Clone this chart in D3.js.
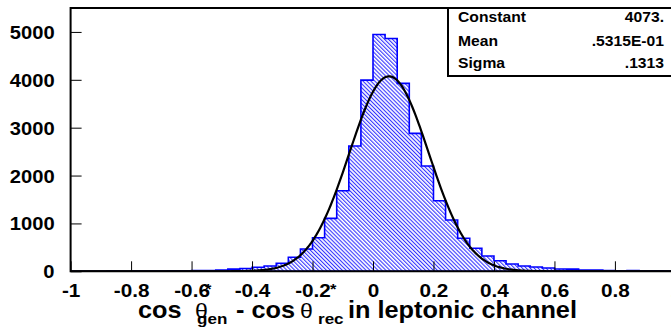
<!DOCTYPE html>
<html>
<head>
<meta charset="utf-8">
<script src="https://cdn.jsdelivr.net/npm/d3@7"></script>
<style>
  body { margin: 0; background: #fff; }
  text { font-family: "Liberation Sans", Arial, sans-serif; font-weight: bold; }
</style>
</head>
<body>
<div id="chart"></div>
<script>
// histogram: 50 bins of 0.04 from -1 to 1 (counts)
var binLow = -1, binWidth = 0.04;
var counts = [1, 2, 1, 3, 2, 4, 5, 6, 8,
              12, 15, 18, 27, 45, 60, 84, 111, 167, 292, 466, 702, 1106, 1683, 2616, 3994,
              4948, 4864, 3925, 2881, 2200, 1474, 1071, 689, 480, 319, 221, 152, 111, 90, 69,
              48, 45, 27, 25, 15, 8, 14, 6, 12, 4];
// gaussian fit, as printed in the stats box
var fitNames = ["Constant", "Mean", "Sigma"];
var fitLabels = ["4073.", ".5315E-01", ".1313"];
var fitConstant = 4073, fitMean = 0.05315, fitSigma = 0.1313;
var xTicks = [-1, -0.8, -0.6, -0.4, -0.2, 0, 0.2, 0.4, 0.6, 0.8, 1];
var xTickLabels = ["-1", "-0.8", "-0.6", "-0.4", "-0.2", "0", "0.2", "0.4", "0.6", "0.8", "1"];
var yTicks = [0, 1000, 2000, 3000, 4000, 5000];

var width = 671, height = 336;
var pLeft = 70.6, pRight = 675.4, pTop = 8, pBottom = 271.3;
var stretch = 1.12; // the original font is a bit wider than Arial

var svg = d3.select('#chart').append('svg')
  .attr('width', width).attr('height', height);

var x = d3.scaleLinear().domain([-1, 1]).range([pLeft, pRight]);
var y = d3.scaleLinear().domain([0, 5500]).range([pBottom, pTop]);

var defs = svg.append('defs');
defs.append('clipPath').attr('id', 'plotclip')
  .append('rect').attr('x', pLeft).attr('y', pTop)
  .attr('width', pRight - pLeft).attr('height', pBottom - pTop);
var pat = defs.append('pattern').attr('id', 'hatch')
  .attr('patternUnits', 'userSpaceOnUse')
  .attr('width', 2.8).attr('height', 10)
  .attr('patternTransform', 'rotate(-45)');
pat.append('line').attr('x1', 0.6).attr('y1', 0).attr('x2', 0.6).attr('y2', 10)
  .attr('stroke', '#0000ff').attr('stroke-width', 0.9);

var plot = svg.append('g').attr('clip-path', 'url(#plotclip)');

// histogram outline as a step path
var bins = counts.map(function (c, i) {
  return { x0: binLow + i * binWidth, x1: binLow + (i + 1) * binWidth, v: c };
});
var p = d3.path();
p.moveTo(x(bins[0].x0), y(0));
bins.forEach(function (b) {
  p.lineTo(x(b.x0), y(b.v));
  p.lineTo(x(b.x1), y(b.v));
});
p.lineTo(x(bins[bins.length - 1].x1), y(0));
p.closePath();

plot.append('path').attr('d', p.toString())
  .attr('fill', 'url(#hatch)')
  .attr('stroke', '#0000ff').attr('stroke-width', 1.6)
  .attr('stroke-linejoin', 'miter');

// fitted gaussian
var curveX = d3.range(-1, 1.0001, 0.005);
var gauss = function (t) {
  return fitConstant * Math.exp(-0.5 * Math.pow((t - fitMean) / fitSigma, 2));
};
plot.append('path')
  .datum(curveX)
  .attr('d', d3.line().x(function (d) { return x(d); }).y(function (d) { return y(gauss(d)); }))
  .attr('fill', 'none').attr('stroke', '#000').attr('stroke-width', 2.2);

// axes, ticks pointing inwards
var xAxis = svg.append('g').attr('transform', 'translate(0,' + pBottom + ')')
  .call(d3.axisBottom(x).tickValues(xTicks).tickSize(-10)
    .tickFormat(function (d, i) { return xTickLabels[i]; }));
xAxis.select('.domain').remove();
xAxis.selectAll('line').attr('stroke', '#000').attr('stroke-width', 1);
xAxis.selectAll('text')
  .attr('y', 26).attr('dy', 0)
  .attr('transform', 'scale(' + stretch + ',1)')
  .attr('font-size', 18.5).attr('fill', '#000')
  .style('font-family', '"Liberation Sans", Arial, sans-serif').style('font-weight', 'bold');

var yAxis = svg.append('g').attr('transform', 'translate(' + pLeft + ',0)')
  .call(d3.axisLeft(y).tickValues(yTicks).tickSize(-11).tickFormat(d3.format('d')));
yAxis.select('.domain').remove();
yAxis.selectAll('line').attr('stroke', '#000').attr('stroke-width', 1);
yAxis.selectAll('text')
  .attr('x', -14.3).attr('dy', '0.36em')
  .attr('transform', 'scale(' + stretch + ',1)')
  .attr('font-size', 18).attr('fill', '#000')
  .style('font-family', '"Liberation Sans", Arial, sans-serif').style('font-weight', 'bold');

// frame
svg.append('path')
  .attr('d', 'M' + width + ',' + pTop + 'H' + pLeft + 'V' + pBottom + 'H' + width)
  .attr('fill', 'none').attr('stroke', '#000').attr('stroke-width', 2);

// stats box
svg.append('rect').attr('x', 448).attr('y', pTop).attr('width', 240).attr('height', 68)
  .attr('fill', '#fff').attr('stroke', '#000').attr('stroke-width', 2);
var rowY = [22, 46, 68];
fitNames.forEach(function (n, i) {
  svg.append('text').attr('transform', 'translate(458,' + rowY[i] + ') scale(' + stretch + ',1)')
    .attr('font-size', 14).text(n);
  svg.append('text').attr('transform', 'translate(664,' + rowY[i] + ') scale(' + stretch + ',1)')
    .attr('font-size', 14).attr('text-anchor', 'end').text(fitLabels[i]);
});

// x title: cos θ*gen - cos θ*rec in leptonic channel
var titleBits = [
  { t: 'cos', x: 138, y: 318, s: 23 },
  { t: 'θ', x: 195, y: 318, s: 21, thin: true },
  { t: '*', x: 205, y: 294, s: 15 },
  { t: 'gen', x: 197, y: 324, s: 15.5 },
  { t: '- cos', x: 236, y: 318, s: 23 },
  { t: 'θ', x: 300, y: 318, s: 21, thin: true },
  { t: '*', x: 330, y: 294, s: 15 },
  { t: 'rec', x: 318, y: 324, s: 15.5 },
  { t: 'in leptonic channel', x: 348, y: 318, s: 23 }
];
svg.append('g').selectAll('text').data(titleBits).enter().append('text')
  .attr('transform', function (d) { return 'translate(' + d.x + ',' + d.y + ') scale(1.1,1)'; })
  .attr('font-size', function (d) { return d.s; })
  .style('font-weight', function (d) { return d.thin ? 'normal' : 'bold'; })
  .text(function (d) { return d.t; });
</script>
</body>
</html>
